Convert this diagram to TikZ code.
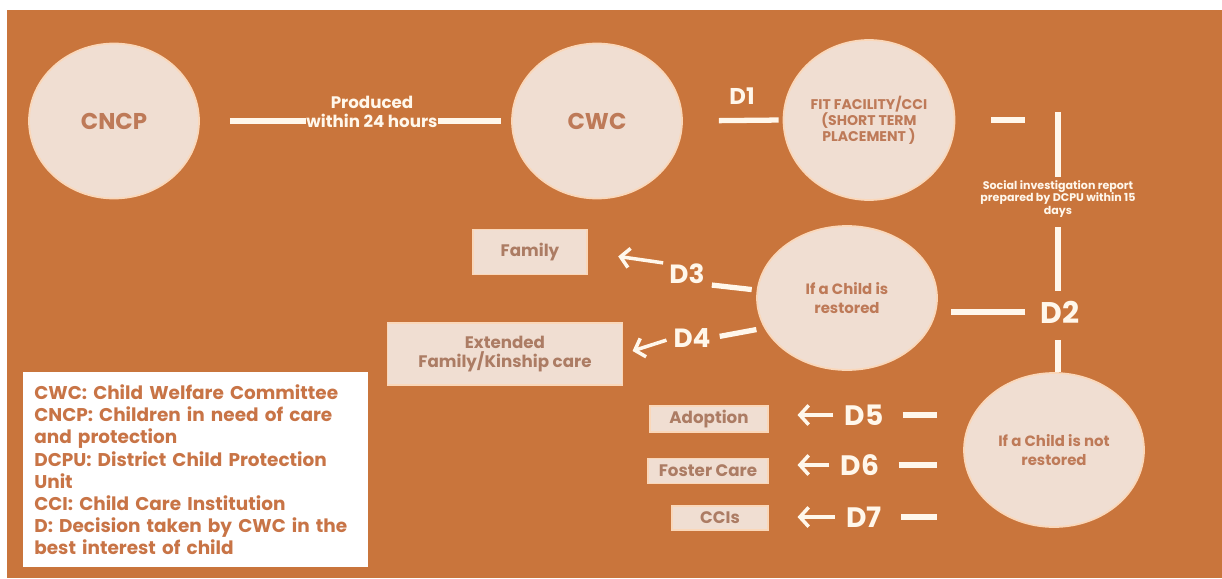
\documentclass[tikz,border=0pt]{standalone}
\usepackage{fontspec}
\setmainfont{Poppins}
\usetikzlibrary{shapes.geometric,arrows.meta}
\definecolor{bgorange}{RGB}{201,117,60}
\definecolor{bubblefill}{RGB}{240,222,210}
\definecolor{bubbleedge}{RGB}{250,215,185}
\definecolor{bubbletext}{RGB}{190,122,88}
\definecolor{linecream}{RGB}{255,247,235}
\definecolor{boxtext}{RGB}{172,124,100}
\definecolor{keytext}{RGB}{200,116,70}
\begin{document}
\begin{tikzpicture}[x=0.02cm, y=-0.02cm,
    bubble/.style={ellipse, fill=bubblefill, draw=bubbleedge, line width=1pt, minimum width=3.4cm, minimum height=3.1cm, inner sep=0pt, align=center, text=bubbletext, font=\bfseries\fontsize{13}{15}\selectfont},
    smallbubble/.style={bubble, font=\bfseries\fontsize{8.5}{10.8}\selectfont},
    choice/.style={rectangle, fill=bubblefill, draw=bubbleedge, line width=0.6pt, inner sep=0pt, align=center, text=boxtext, font=\bfseries\fontsize{9.5}{10.5}\selectfont},
    dlab/.style={text=linecream, inner sep=0pt, font=\bfseries\fontsize{15}{17}\selectfont},
    note/.style={text=linecream, inner sep=0pt, align=center, font=\bfseries\fontsize{9.5}{10.5}\selectfont},
    keybox/.style={rectangle, fill=white, text=keytext, align=left, inner xsep=0.22cm, text width=6.46cm, font=\bfseries\fontsize{10.5}{12.6}\selectfont},
    link/.style={draw=linecream, line width=3pt},
    pick/.style={draw=linecream, line width=2pt, -{Straight Barb[length=5pt, width=11pt]}}
  ]
    \fill[white] (0,0) rectangle (1222,578);
    \fill[bgorange] (7,10) rectangle (1222,578);
    \useasboundingbox (0,0) rectangle (1222,578);

    \node[bubble] (cncp) at (114,121) {CNCP};
    \node[bubble] (cwc) at (597,121) {CWC};
    \node[bubble, font=\bfseries\fontsize{8}{9}\selectfont, minimum width=3.42cm, minimum height=3.2cm] (fit) at (869,120) {FIT FACILITY/CCI\\(SHORT TERM\\PLACEMENT )};
    \node[smallbubble, minimum width=3.6cm, minimum height=2.88cm] (rest) at (847,298) {If a Child is\\restored};
    \node[smallbubble, minimum width=3.6cm, minimum height=3.08cm] (notrest) at (1054,450) {If a Child is not\\restored};

    \node[note] (prod) at (372,112) {Produced\\within 24 hours};
    \node[note, font=\bfseries\fontsize{6.3}{7.3}\selectfont] (sir) at (1058,199) {Social investigation report\\prepared by DCPU within 15\\days};
    \coordinate (top) at (1058,112);

    \node[dlab, font=\bfseries\fontsize{13}{15}\selectfont] (d1) at (742,96) {D1};
    \node[dlab, font=\bfseries\fontsize{17}{19}\selectfont] (d2) at (1060,312) {D2};
    \node[dlab] (d3) at (687,274) {D3};
    \node[dlab] (d4) at (692,338) {D4};
    \node[dlab, font=\bfseries\fontsize{16}{18}\selectfont] (d5) at (864,415) {D5};
    \node[dlab, font=\bfseries\fontsize{16}{18}\selectfont] (d6) at (860,465) {D6};
    \node[dlab, font=\bfseries\fontsize{16}{18}\selectfont] (d7) at (864,517) {D7};

    \node[choice, minimum width=2.28cm, minimum height=0.9cm] (family) at (530,252) {Family};
    \node[choice, minimum width=4.7cm, minimum height=1.24cm] (ext) at (505,354) {Extended\\Family/Kinship care};
    \node[choice, minimum width=2.36cm, minimum height=0.52cm] (adopt) at (709,419) {Adoption};
    \node[choice, minimum width=2.4cm, minimum height=0.5cm] (foster) at (708,471) {Foster Care};
    \node[choice, minimum width=1.92cm, minimum height=0.48cm] (ccis) at (720,518) {CCIs};

    \node[keybox, anchor=north west, minimum height=3.9cm] (key) at (23,372) {CWC: Child Welfare Committee\\CNCP: Children in need of care\\and protection\\DCPU: District Child Protection\\Unit\\CCI: Child Care Institution\\D: Decision taken by CWC in the\\best interest of child};

    \draw[link, shorten <=0.6cm] (cncp.east) -- (cncp.east -| prod.west);
    \draw[link, shorten >=0.2cm] (prod.east |- cwc.west) -- (cwc.west);
    \draw[link, shorten <=0.72cm, shorten >=0.08cm] (cwc.east) -- (fit.west);
    \draw[link, shorten <=0.72cm, shorten >=0.66cm] (fit.east) -- (fit.east -| top);
    \draw[link, shorten >=0.06cm] (top) -- (sir.north);
    \draw[link, shorten <=0.18cm, shorten >=0.2cm] (sir.south) -- (sir.south |- d2.north);
    \draw[link, shorten <=0.34cm] (d2.south -| sir.south) -- (notrest.north -| sir.south);
    \draw[link, shorten <=0.3cm, shorten >=0.26cm] (d2.west) -- (d2.west -| rest.east);
    \draw[link, shorten <=0.1cm, shorten >=0.14cm] (rest.175) -- (d3.south east);
    \draw[link, shorten <=0.16cm, shorten >=0.18cm] (rest.200) -- (d4.east);
    \draw[pick, shorten <=0.12cm, shorten >=0.62cm] (d3.north west) -- (family.east);
    \draw[pick, shorten <=0.14cm, shorten >=0.2cm] (d4.west) -- (ext.east);
    \foreach \d/\b in {d5/adopt, d6/foster, d7/ccis} {
        \draw[link, shorten <=0.38cm, shorten >=0.52cm] (\d.east) -- (\d.east -| notrest.west);
        \draw[pick, shorten <=0.22cm, shorten >=0.58cm] (\d.west) -- (\d.west -| \b.east);
    }
\end{tikzpicture}
\end{document}
